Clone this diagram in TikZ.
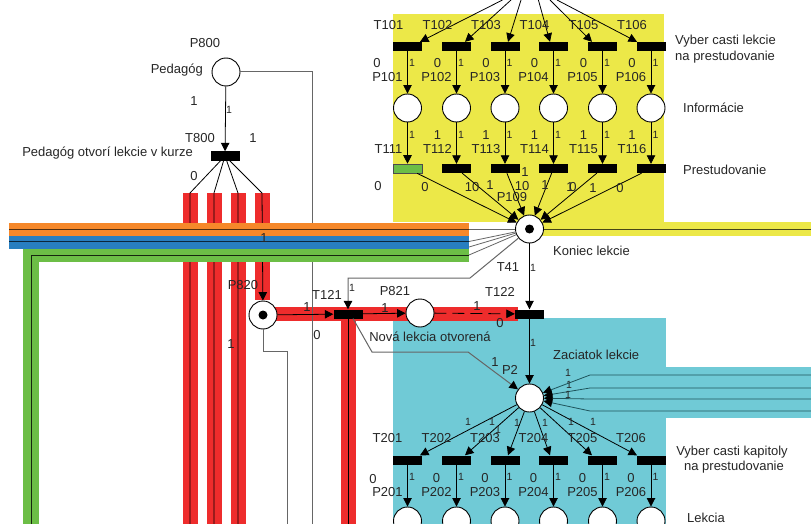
\documentclass[tikz,border=0pt]{standalone}
\usepackage{fontspec}
\setmainfont{Liberation Sans}
\usetikzlibrary{arrows.meta,calc}
\definecolor{yel}{RGB}{236,232,72}
\definecolor{cya}{RGB}{112,202,214}
\definecolor{redb}{RGB}{238,44,44}
\definecolor{orb}{RGB}{246,136,42}
\definecolor{blb}{RGB}{40,126,192}
\definecolor{grb}{RGB}{108,190,70}
\definecolor{tealdk}{RGB}{30,84,92}
\begin{document}
\begin{tikzpicture}[x=1pt,y=-1pt,
  every node/.style={font=\fontsize{13}{15}\selectfont},
  place/.style={circle,draw=black,line width=0.9pt,fill=white,minimum size=28pt,inner sep=0pt},
  tok/.style={circle,fill=black,minimum size=9pt,inner sep=0pt},
  trans/.style={rectangle,fill=black,minimum width=29pt,minimum height=9pt,inner sep=0pt},
  tip/.style={-{Triangle[length=8.5pt,width=8.5pt,color=black,fill=black]}},
  arc/.style={draw=black,line width=0.8pt,tip},
  ln/.style={draw=black,line width=0.8pt},
  gl/.style={draw=black!60,line width=1pt},
  lbl/.style={inner sep=0pt,text=black!85},
  sm/.style={inner sep=0pt,text=black!85,font=\fontsize{10.5}{10.5}\selectfont}
]
\fill[white] (0,0) rectangle (811,524);
\useasboundingbox (0,0) rectangle (811,524);
% coloured regions
\fill[yel] (393,14) rectangle (664,222);
\fill[yel] (529,222) rectangle (811,236);
\fill[cya] (393,318) rectangle (666,524);
\fill[cya] (666,367) rectangle (811,418);
% red bands
\foreach \x in {190,214,238} \fill[redb] (\x-7.5,193) rectangle (\x+7.5,524);
\fill[redb] (254.5,193) rectangle (269.5,300);
\fill[redb] (263,307) rectangle (518,321);
\fill[redb] (340.5,318) rectangle (355.5,524);

% nodes
\node[place] (P800) at (226,72) {};
\node[trans] (T800) at (225,156) {};
\node[place] (P820) at (263,315) {};
\node[tok] (K820) at (263,315) {};
\node[trans] (T121) at (348,314) {};
\node[place] (P821) at (420,313) {};
\node[trans] (T122) at (529.5,314) {};
\node[place] (P109) at (529.5,229) {};
\node[tok] (K109) at (529.5,229) {};
\node[place] (P2) at (529.5,398) {};
\foreach \i/\x in {1/407.5,2/456.5,3/505,4/553.5,5/602.5,6/651} {
  \node[trans] (T10\i) at (\x,46.5) {};
  \node[place] (P10\i) at (\x,108) {};
  \node[trans] (T20\i) at (\x,460) {};
  \node[place] (P20\i) at (\x,521) {};
}
\node[trans,fill=grb,draw=black!70,line width=0.6pt] (T111) at (407.5,168.5) {};
\foreach \i/\x in {2/456.5,3/505,4/553.5,5/602.5,6/651}
  \node[trans] (T11\i) at (\x,168.5) {};

% lines inside red bands
\foreach \k/\x in {1/190,2/214,3/238} {
  \coordinate (R\k t) at (\x,193);
  \coordinate (R\k b) at (\x,524);
  \draw[ln] (T800) -- (R\k t) -- (R\k b);
}
\coordinate (R4t) at (262,193);
\draw[arc] (T800) -- (R4t) -- (P820);
% grey lines
\coordinate (G1) at (312,72);
\coordinate (G2) at (312,524);
\draw[gl] (P800) -- (G1) -- (G2);
\coordinate (G3) at (263,351);
\coordinate (G4) at (287,351);
\coordinate (G5) at (287,524);
\draw[gl] (P820) -- (G3) -- (G4) -- (G5);

% horizontal bands
\fill[orb] (9,223) rectangle (469,235.5);
\fill[blb] (9,235.5) rectangle (469,248.5);
\fill[grb] (23,248.5) rectangle (469,262);
\fill[grb] (23,248.5) rectangle (39,524);
\coordinate (A1) at (9,229);
\coordinate (B1) at (469,229);
\coordinate (A2) at (9,241.5);
\coordinate (B2) at (469,241.5);
\coordinate (B3) at (469,247);
\coordinate (A4) at (31,524);
\coordinate (A5) at (31,255);
\coordinate (B4) at (469,255);
\draw[line width=1pt,draw=black!65!orb] (A1) -- (B1);
\draw[line width=1pt,draw=black!70!blb] (A2) -- (B2);
\draw[line width=1pt,draw=black!80!grb] (A4) -- (A5) -- (B4);
\draw[gl,line width=0.8pt] (B1) -- (P109);
\draw[gl,line width=0.8pt] (B2) -- (P109);
\draw[gl,line width=0.8pt] (B3) -- (P109);
\draw[gl,line width=0.8pt] (B4) -- (P109);
\coordinate (YE) at (811,229);
\draw[line width=1pt,draw=black!70!yel] (P109) -- (YE);

% arcs middle
\draw[arc] (P800) -- (T800);
\draw[arc] (P820) -- (T121);
\draw[arc] (T121) -- (P821);
\draw[arc,dash pattern=on 12pt off 6pt] (P821) -- (T122);
\draw[arc] (P109) -- (T122);
\draw[arc] (T122) -- (P2);
\coordinate (R5b) at (348,524);
\draw[ln] (T121) -- (R5b);
\coordinate (C1) at (470,278);
\coordinate (C2) at (348,278);
\draw[gl,tip] (P109) -- (C1) -- (C2) -- (T121);
\coordinate (D0) at (353,318.5);
\coordinate (D1) at (372,352);
\coordinate (D2) at (468,352);
\draw[gl,tip] (D0) -- (D1) -- (D2) -- (P2);

% yellow block arcs
\foreach \i/\sx/\dx in {1/502.5/12.5,2/511/8.5,3/521/3,4/538.4/-3.5,5/550/-10.5,6/557/-14} {
  \coordinate (S\i) at (\sx,0);
  \draw[arc] (S\i) -- ($(T10\i.north)+(\dx,0)$);
  \draw[arc] (P2) -- ($(T20\i.north)+(\dx,0)$);
}
\foreach \i in {1,...,6} {
  \draw[arc] (T10\i) -- (P10\i);
  \draw[arc] (P10\i) -- (T11\i);
  \draw[arc] (T11\i) -- (P109);
  \draw[arc] (T20\i) -- (P20\i);
}
% right band into P2
\foreach \k/\yy in {1/375,2/388,3/399,4/411} {
  \coordinate (RE\k) at (811,\yy);
  \coordinate (RB\k) at (590,\yy);
  \draw[arc,draw=tealdk] (RE\k) -- (RB\k) -- (P2);
}

% labels yellow/cyan columns
\foreach \i/\x in {1/407.5,2/456.5,3/505,4/553.5,5/602.5,6/651} {
  \node[lbl] (lT10\i) at (\x-19,25) {T10\i};
  \node[sm] (la\i) at (\x+4.5,63) {1};
  \node[lbl] (lP10\i) at (\x-20,77) {P10\i};
  \node[sm] (lb\i) at (\x+4.5,135) {1};
  \node[lbl] (lT11\i) at (\x-19,149) {T11\i};
  \node[lbl] (lT20\i) at (\x-20,438) {T20\i};
  \node[sm] (lc\i) at (\x+4.5,477) {1};
  \node[lbl] (lP20\i) at (\x-20,492) {P20\i};
}
\foreach \i/\x in {2/456.5,3/505,4/553.5,5/602.5,6/651} {
  \node[lbl] (lz\i) at (\x-19,63) {0};
  \node[lbl] (ly\i) at (\x-19,135) {1};
  \node[lbl] (lx\i) at (\x-20,478) {0};
}
\node[lbl] (lz1) at (377,63) {0};
\node[lbl] (lx1) at (373,479) {0};
\node[lbl] (lq0) at (378,186) {0};
\node[lbl] (lq1) at (425,187) {0};
\node[lbl] (lq2) at (472,187) {10};
\node[lbl] (lq3) at (490,185) {1};
\node[lbl] (lq4) at (522,186) {10};
\node[lbl] (lq5) at (525,172) {1};
\node[lbl] (lq6) at (545,185) {1};
\node[lbl] (lq7) at (570,187) {1};
\node[lbl] (lq8) at (573,187) {0};
\node[lbl] (lq9) at (593,188) {1};
\node[lbl] (lq10) at (620,188) {0};
\node[lbl] (lP109) at (512,197) {P109};
\node[lbl,anchor=west] (lr1) at (675,41) {Vyber casti lekcie};
\node[lbl,anchor=west] (lr2) at (675,57) {na prestudovanie};
\node[lbl,anchor=west] (lr3) at (683,108) {Informácie};
\node[lbl,anchor=west] (lr4) at (683,170) {Prestudovanie};
\node[lbl,anchor=west] (lr5) at (553,251) {Koniec lekcie};
\node[lbl,anchor=west] (lr6) at (553,355) {Zaciatok lekcie};
\node[lbl] (lr7) at (732,452) {Vyber casti kapitoly};
\node[lbl] (lr8) at (734,467) {na prestudovanie};
\node[lbl,anchor=west] (lr9) at (687,518) {Lekcia};
% P2 arc labels
\node[sm] (lp1) at (468,422) {1};
\node[sm] (lp2) at (492,422) {1};
\node[sm] (lp3) at (498,430) {1};
\node[sm] (lp4) at (517,423) {1};
\node[sm] (lp5) at (545,423) {1};
\node[sm] (lp6) at (571,422) {1};
\node[sm] (lp7) at (593,422) {1};
\node[sm] (lp8) at (568,373) {1};
\node[sm] (lp9) at (569,385) {1};
\node[sm] (lp10) at (568,395) {1};
% left / middle labels
\node[lbl] (m1) at (205,43) {P800};
\node[lbl,anchor=east] (m2) at (203,70) {Pedagóg};
\node[lbl] (m3) at (194,101) {1};
\node[sm] (m4) at (229,110) {1};
\node[lbl] (m5) at (200,138) {T800};
\node[lbl] (m6) at (253,138) {1};
\node[lbl,anchor=east] (m7) at (193,153) {Pedagóg otvorí lekcie v kurze};
\node[lbl] (m8) at (194,176) {0};
\node[lbl] (m9) at (264,238) {1};
\node[lbl] (m10) at (243,285) {P820};
\node[lbl] (m11) at (231,344) {1};
\node[lbl] (m12) at (317,335) {0};
\node[lbl] (m13) at (327,295) {T121};
\node[lbl] (m14) at (307,307) {1};
\node[sm] (m15) at (352,288) {1};
\node[lbl] (m16) at (395,291) {P821};
\node[lbl] (m17) at (385,308) {1};
\node[lbl] (m18) at (500,292) {T122};
\node[lbl] (m19) at (477,306) {1};
\node[lbl] (m20) at (500,323) {0};
\node[lbl] (m21) at (508,267) {T41};
\node[sm] (m22) at (533,268) {1};
\node[lbl] (m23) at (430,337) {Nová lekcia otvorená};
\node[sm] (m24) at (533,343) {1};
\node[lbl] (m25) at (495,362) {1};
\node[lbl] (m26) at (510,370) {P2};
\end{tikzpicture}
\end{document}
